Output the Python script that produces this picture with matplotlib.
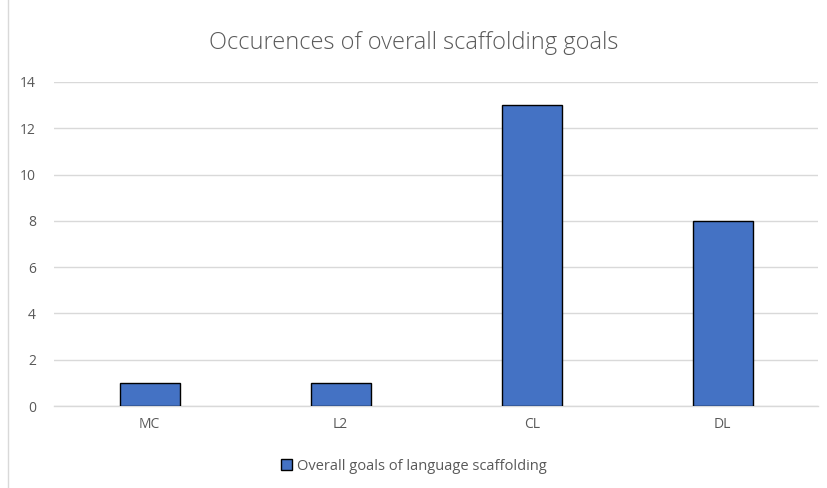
import matplotlib.pyplot as plt
from matplotlib.patches import Rectangle

# Data
categories = ['MC', 'L2', 'CL', 'DL']
goal_counts = [1, 1, 13, 8]
y_ticks = [0, 2, 4, 6, 8, 10, 12, 14]

BAR_COLOR = '#4472C4'
TEXT_COLOR = '#595959'
GRID_COLOR = '#D9D9D9'

plt.rcParams['font.family'] = ['Open Sans', 'DejaVu Sans']

fig = plt.figure(figsize=(8.28, 4.88), dpi=100)
ax = fig.add_axes([0.0652, 0.168, 0.923, 0.664])

x = range(len(categories))
ax.bar(x, goal_counts, width=0.314, color=BAR_COLOR, edgecolor='black',
       linewidth=1.0, label='Overall goals of language scaffolding', zorder=3)

ax.set_xlim(-0.5, len(categories) - 0.5)
ax.set_ylim(0, 14)
ax.set_yticks(y_ticks)
ax.set_xticks(list(x))
ax.set_xticklabels(categories)
ax.tick_params(axis='both', length=0, colors=TEXT_COLOR, labelsize=10)
ax.tick_params(axis='y', pad=13)
ax.tick_params(axis='x', pad=8)

ax.grid(True, axis='y', color=GRID_COLOR, linewidth=1.0, zorder=0)
for side in ['top', 'right', 'left']:
    ax.spines[side].set_visible(False)
ax.spines['bottom'].set_color(GRID_COLOR)
ax.spines['bottom'].set_linewidth(1.0)

fig.text(0.5, 0.911, 'Occurences of overall scaffolding goals', ha='center',
         va='center', fontsize=17, color=TEXT_COLOR, fontweight='light')

leg = fig.legend(loc='center', bbox_to_anchor=(0.5, 0.045), frameon=False,
                 fontsize=10.5, handlelength=0.75, handleheight=0.75, handletextpad=0.3)
for t in leg.get_texts():
    t.set_color(TEXT_COLOR)

# chart area border
fig.patches.append(Rectangle((8 / 828, -0.01), 1.0, 1.02, transform=fig.transFigure,
                             fill=False, edgecolor=GRID_COLOR, linewidth=1.0))

fig.savefig('out.png', dpi=100)
